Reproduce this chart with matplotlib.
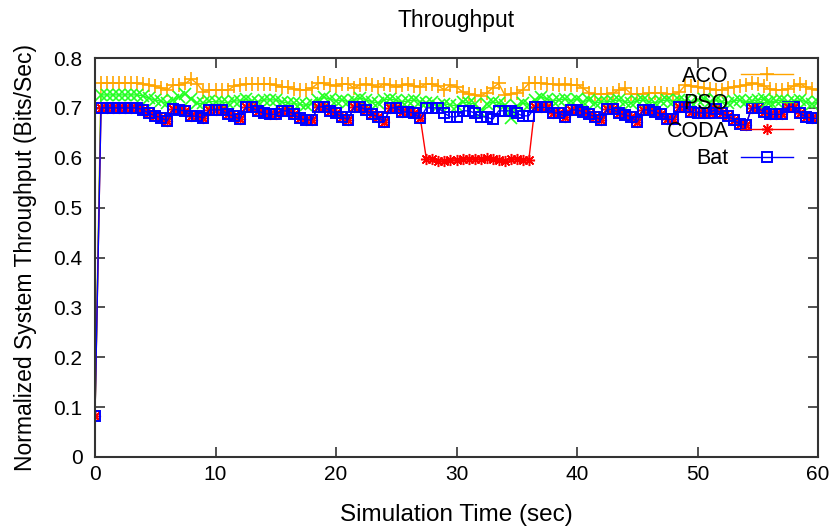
import numpy as np
import matplotlib
matplotlib.use("Agg")
import matplotlib.pyplot as plt

plt.rcParams['font.family'] = ['Liberation Sans', 'DejaVu Sans']

# sampled every 0.5 sec, 0 .. 60
aco = [0.083,
       0.750, 0.750, 0.750, 0.750, 0.750, 0.750, 0.750,
       0.748, 0.746, 0.743, 0.740, 0.736,
       0.746, 0.746, 0.749, 0.758, 0.748, 0.732,
       0.736, 0.736, 0.736, 0.735, 0.743, 0.746,
       0.748, 0.748, 0.748, 0.748, 0.748, 0.745,
       0.742, 0.742, 0.738, 0.736, 0.736, 0.740,
       0.749, 0.749, 0.746, 0.744, 0.748, 0.748,
       0.740, 0.746, 0.748, 0.745, 0.742, 0.748,
       0.746, 0.742, 0.745, 0.748, 0.744, 0.742,
       0.748, 0.748, 0.744, 0.736, 0.746, 0.742,
       0.732, 0.728, 0.726, 0.724, 0.730, 0.740,
       0.749, 0.726, 0.728, 0.730, 0.736, 0.749,
       0.750, 0.750, 0.748, 0.748, 0.746, 0.748,
       0.746, 0.746, 0.740, 0.730, 0.728, 0.728,
       0.728, 0.730, 0.736, 0.739, 0.728, 0.728,
       0.728, 0.730, 0.730, 0.730, 0.728, 0.728,
       0.732, 0.746, 0.744, 0.742, 0.740, 0.738,
       0.736, 0.736, 0.740, 0.742, 0.743, 0.746,
       0.749, 0.748, 0.744, 0.738, 0.736, 0.736,
       0.738, 0.744, 0.748, 0.742, 0.738, 0.736]

pso = [0.083,
       0.726, 0.726, 0.726, 0.726, 0.726, 0.726, 0.726,
       0.724, 0.719, 0.716, 0.713, 0.709,
       0.716, 0.722, 0.728, 0.718, 0.709, 0.709,
       0.713, 0.712, 0.712, 0.710, 0.714, 0.714,
       0.717, 0.714, 0.712, 0.716, 0.716, 0.716,
       0.712, 0.710, 0.709, 0.707, 0.705, 0.709,
       0.716, 0.721, 0.718, 0.714, 0.716, 0.712,
       0.716, 0.720, 0.716, 0.712, 0.710, 0.716,
       0.718, 0.715, 0.712, 0.714, 0.716, 0.712,
       0.710, 0.712, 0.704, 0.708, 0.706, 0.704,
       0.712, 0.710, 0.708, 0.690, 0.708, 0.712,
       0.710, 0.706, 0.680, 0.704, 0.710, 0.706,
       0.716, 0.722, 0.718, 0.714, 0.716, 0.718,
       0.714, 0.718, 0.712, 0.716, 0.710, 0.712,
       0.712, 0.714, 0.716, 0.712, 0.710, 0.714,
       0.716, 0.712, 0.710, 0.714, 0.716, 0.712,
       0.716, 0.714, 0.712, 0.716, 0.718, 0.712,
       0.716, 0.712, 0.710, 0.714, 0.716, 0.712,
       0.714, 0.716, 0.718, 0.712, 0.714, 0.716,
       0.712, 0.714, 0.716, 0.712, 0.708, 0.712]

coda = [0.083,
        0.700, 0.700, 0.700, 0.700, 0.700, 0.700, 0.700,
        0.696, 0.689, 0.684, 0.680, 0.674,
        0.697, 0.696, 0.693, 0.684, 0.683, 0.680,
        0.696, 0.696, 0.696, 0.687, 0.684, 0.677,
        0.701, 0.701, 0.694, 0.689, 0.687, 0.687,
        0.694, 0.694, 0.687, 0.679, 0.676, 0.676,
        0.702, 0.702, 0.694, 0.689, 0.682, 0.676,
        0.702, 0.702, 0.696, 0.687, 0.682, 0.672,
        0.700, 0.700, 0.692, 0.692, 0.689, 0.679,
        0.597, 0.597, 0.594, 0.593, 0.596, 0.595,
        0.597, 0.598, 0.598, 0.597, 0.599, 0.598,
        0.595, 0.594, 0.597, 0.598, 0.596, 0.595,
        0.701, 0.701, 0.701, 0.690, 0.690, 0.682,
        0.696, 0.696, 0.692, 0.687, 0.682, 0.676,
        0.697, 0.697, 0.689, 0.686, 0.682, 0.672,
        0.696, 0.696, 0.692, 0.687, 0.677, 0.677,
        0.702, 0.702, 0.692, 0.690, 0.690, 0.690,
        0.697, 0.689, 0.684, 0.676, 0.668, 0.665,
        0.700, 0.700, 0.692, 0.687, 0.687, 0.687,
        0.702, 0.702, 0.689, 0.682, 0.679, 0.679]

bat = [0.083,
       0.700, 0.700, 0.700, 0.700, 0.700, 0.700, 0.700,
       0.696, 0.689, 0.684, 0.680, 0.674,
       0.697, 0.696, 0.693, 0.684, 0.683, 0.680,
       0.696, 0.696, 0.696, 0.687, 0.684, 0.677,
       0.701, 0.701, 0.694, 0.689, 0.687, 0.687,
       0.694, 0.694, 0.687, 0.679, 0.676, 0.676,
       0.702, 0.702, 0.694, 0.689, 0.682, 0.676,
       0.702, 0.702, 0.696, 0.687, 0.682, 0.672,
       0.700, 0.700, 0.692, 0.692, 0.689, 0.679,
       0.700, 0.700, 0.700, 0.689, 0.682, 0.682,
       0.694, 0.694, 0.690, 0.682, 0.682, 0.677,
       0.694, 0.694, 0.694, 0.689, 0.684, 0.684,
       0.701, 0.701, 0.701, 0.690, 0.690, 0.682,
       0.696, 0.696, 0.692, 0.687, 0.682, 0.676,
       0.697, 0.697, 0.689, 0.686, 0.682, 0.672,
       0.696, 0.696, 0.692, 0.687, 0.677, 0.677,
       0.702, 0.702, 0.692, 0.690, 0.690, 0.690,
       0.697, 0.689, 0.684, 0.676, 0.668, 0.665,
       0.700, 0.700, 0.692, 0.687, 0.687, 0.687,
       0.702, 0.702, 0.689, 0.682, 0.679, 0.679]

t = np.arange(len(bat)) * 0.5

fig = plt.figure(figsize=(8.36, 5.31), dpi=100)
ax = fig.add_axes([95/836, 1 - 457/531, (818 - 95)/836, (457 - 58)/531])

# gnuplot-like: no marker drawn at the start point for ACO / PSO
ax.plot(t, aco, color='#ffa500', lw=1.0, marker='+', ms=10, mew=1.2,
        markevery=slice(1, None), label='ACO')
ax.plot(t, pso, color='#22ff22', lw=1.0, marker='x', ms=8, mew=1.2,
        markevery=slice(1, None), label='PSO')
ax.plot(t, coda, color='#ff0000', lw=1.0, marker=(8, 2, 0), ms=8, mew=1.1, label='CODA')
ax.plot(t, bat, color='#0000ff', lw=1.0, marker='s', ms=7, mfc='none', mew=1.4, label='Bat')

ax.set_xlim(0, 60)
ax.set_ylim(0, 0.8)
ax.set_xticks(np.arange(0, 61, 10))
ax.set_yticks(np.arange(0, 0.81, 0.1))
ax.set_yticklabels(['0', '0.1', '0.2', '0.3', '0.4', '0.5', '0.6', '0.7', '0.8'])
ax.tick_params(direction='in', top=True, right=True, length=7, width=1.2,
               labelsize=15, color='#333333')
ax.tick_params(axis='y', pad=9)
ax.tick_params(axis='x', pad=6)
for sp in ax.spines.values():
    sp.set_linewidth(1.5)
    sp.set_color('#333333')

ax.set_title('Throughput', fontsize=16.5, pad=22)
ax.set_xlabel('Simulation Time (sec)', fontsize=17.5, labelpad=14)
ax.set_ylabel('Normalized System Throughput (Bits/Sec)', fontsize=16.5, labelpad=12)

ax.legend(loc='upper right', bbox_to_anchor=(793/836, 1 - 66/531),
          bbox_transform=fig.transFigure, frameon=False, markerfirst=False,
          fontsize=15.5, handlelength=2.4, handletextpad=0.6, labelspacing=0.3,
          borderpad=0, borderaxespad=0, numpoints=1)

fig.savefig('out.png', dpi=100)
